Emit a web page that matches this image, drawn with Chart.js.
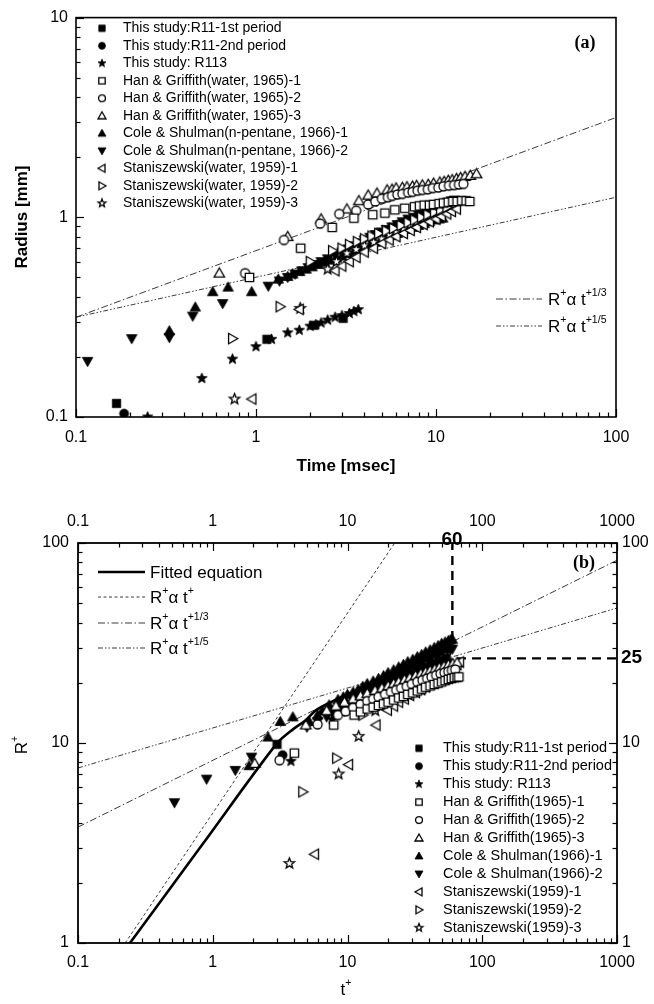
<!DOCTYPE html>
<html><head><meta charset="utf-8">
<script src="https://cdn.jsdelivr.net/npm/chart.js"></script>
<style>
html,body{margin:0;padding:0;background:#fff;}
#wrap{position:relative;width:654px;height:1004px;overflow:hidden;}
#ca{position:absolute;left:0;top:0;}
#cb{position:absolute;left:0;top:490px;}
</style></head><body>
<div id="wrap"><canvas id="ca" width="654" height="490"></canvas><canvas id="cb" width="654" height="514"></canvas></div>
<script>
// ---------- tick labels ----------
const aTimeTicks = [0.1, 1, 10, 100];
const aTimeLabels = ['0.1', '1', '10', '100'];
const aRadTicks = [0.1, 1, 10];
const aRadLabels = ['0.1', '1', '10'];
const bTTicks = [0.1, 1, 10, 100, 1000];
const bTLabels = ['0.1', '1', '10', '100', '1000'];
const bRTicks = [1, 10, 100];
const bRLabels = ['1', '10', '100'];

// ---------- series names ----------
const aNames = ['This study:R11-1st period','This study:R11-2nd period','This study: R113',
  'Han & Griffith(water, 1965)-1','Han & Griffith(water, 1965)-2','Han & Griffith(water, 1965)-3',
  'Cole & Shulman(n-pentane, 1966)-1','Cole & Shulman(n-pentane, 1966)-2',
  'Staniszewski(water, 1959)-1','Staniszewski(water, 1959)-2','Staniszewski(water, 1959)-3'];
const bNames = ['This study:R11-1st period','This study:R11-2nd period','This study: R113',
  'Han & Griffith(1965)-1','Han & Griffith(1965)-2','Han & Griffith(1965)-3',
  'Cole & Shulman(1966)-1','Cole & Shulman(1966)-2',
  'Staniszewski(1959)-1','Staniszewski(1959)-2','Staniszewski(1959)-3'];

// ---------- panel (a): time [msec], radius [mm] ----------
const aT_R11a = [0.168, 1.15, 2.1, 3.05];
const aR_R11a = [0.117, 0.245, 0.288, 0.312];
const aT_R11b = [0.185];
const aR_R11b = [0.104];
const aT_R113 = [0.25, 0.5, 0.74, 1.0, 1.22, 1.5, 1.74, 2.0, 2.15, 2.3, 2.5, 2.75, 3.0, 3.3, 3.5, 3.7];
const aR_R113 = [0.1, 0.156, 0.195, 0.225, 0.245, 0.264, 0.272, 0.285, 0.29, 0.296, 0.306, 0.316, 0.322, 0.33, 0.338, 0.345];
const aT_HG1 = [0.92, 1.77, 2.65, 3.5, 4.45, 5.2, 5.9, 6.7, 7.6, 8.1, 8.6, 9.2, 9.7, 10.4, 11.0, 11.7, 12.4, 13.1, 13.9, 14.7, 15.4];
const aR_HG1 = [0.50, 0.70, 0.89, 0.99, 1.03, 1.05, 1.09, 1.11, 1.13, 1.14, 1.15, 1.15, 1.16, 1.17, 1.18, 1.19, 1.2, 1.2, 1.21, 1.21, 1.2];
const aT_HG2 = [0.87, 1.43, 2.27, 2.9, 3.6, 4.2, 4.6, 5.0, 5.4, 5.7, 6.1, 6.5, 7.0, 7.4, 7.9, 8.4, 9.0, 9.6, 10.3, 11.0, 11.8, 12.6, 13.4, 14.2];
const aR_HG2 = [0.525, 0.77, 0.93, 1.04, 1.08, 1.16, 1.2, 1.24, 1.26, 1.28, 1.3, 1.31, 1.33, 1.34, 1.36, 1.37, 1.38, 1.4, 1.41, 1.43, 1.44, 1.45, 1.46, 1.47];
const aT_HG3 = [0.625, 1.5, 2.3, 3.2, 3.73, 4.2, 4.7, 5.35, 5.7, 6.0, 6.5, 6.9, 7.4, 7.8, 8.4, 9.05, 9.7, 10.5, 11.1, 11.7, 12.3, 13.0, 13.7, 14.5, 15.5, 16.8];
const aR_HG3 = [0.525, 0.80, 0.98, 1.1, 1.21, 1.29, 1.32, 1.37, 1.38, 1.40, 1.41, 1.42, 1.43, 1.44, 1.45, 1.46, 1.48, 1.5, 1.51, 1.53, 1.54, 1.56, 1.58, 1.6, 1.62, 1.65];
const aT_CS1 = [0.33, 0.46, 0.575, 0.70, 0.946, 1.33, 1.5, 1.6, 1.75, 1.9, 2.05, 2.2, 2.4, 2.6, 2.8, 3.0, 3.25, 3.5, 3.75, 4.0, 4.3, 4.6, 4.95, 5.3, 5.7, 6.1, 6.5, 7.0, 7.5, 8.0, 8.6, 9.2, 9.9, 10.4, 10.9];
const aR_CS1 = [0.27, 0.355, 0.424, 0.447, 0.424, 0.49, 0.505, 0.52, 0.535, 0.55, 0.565, 0.58, 0.595, 0.61, 0.625, 0.64, 0.66, 0.68, 0.695, 0.71, 0.73, 0.75, 0.77, 0.79, 0.81, 0.83, 0.85, 0.87, 0.89, 0.91, 0.93, 0.95, 0.97, 0.98, 0.99];
const aT_CS2 = [0.116, 0.204, 0.33, 0.445, 0.653, 1.17, 1.35, 1.5, 1.65, 1.8, 1.95, 2.1, 2.3, 2.5, 2.75, 3.0, 3.25, 3.5, 3.75, 4.0, 4.3, 4.6, 4.95, 5.3, 5.7, 6.1, 6.5, 7.0, 7.5, 8.0, 8.6, 9.2, 9.8, 10.5, 11.1, 11.6, 12.2, 12.7];
const aR_CS2 = [0.19, 0.247, 0.25, 0.32, 0.37, 0.452, 0.48, 0.5, 0.52, 0.54, 0.56, 0.58, 0.6, 0.62, 0.645, 0.67, 0.695, 0.72, 0.745, 0.77, 0.795, 0.82, 0.845, 0.87, 0.895, 0.92, 0.95, 0.98, 1.0, 1.03, 1.06, 1.09, 1.12, 1.15, 1.17, 1.19, 1.21, 1.22];
const aT_St1 = [0.95, 1.74, 2.75, 3.0, 3.3, 3.6, 4.0, 4.5, 5.0, 5.5, 6.0, 6.6, 7.2, 7.8, 8.5, 9.2, 10.0, 10.7, 11.5, 12.2, 13.0];
const aR_St1 = [0.123, 0.346, 0.54, 0.57, 0.6, 0.63, 0.67, 0.7, 0.74, 0.77, 0.8, 0.83, 0.86, 0.89, 0.92, 0.95, 0.98, 1.01, 1.04, 1.07, 1.1];
const aT_St2 = [0.74, 1.36, 2.0, 2.66, 3.0, 3.3, 3.65, 4.0, 4.4, 4.8, 5.3, 5.8, 6.4, 7.0, 7.6, 8.3, 9.0, 9.8, 10.6, 11.5];
const aR_St2 = [0.247, 0.357, 0.6, 0.68, 0.7, 0.73, 0.755, 0.78, 0.805, 0.83, 0.855, 0.88, 0.91, 0.94, 0.97, 1.0, 1.03, 1.06, 1.09, 1.12];
const aT_St3 = [0.76, 1.76, 2.5, 2.8, 3.2, 3.6, 4.0, 4.5, 5.0, 5.5, 6.0, 6.6, 7.2, 7.8, 8.5, 9.2, 10.0];
const aR_St3 = [0.123, 0.35, 0.55, 0.6, 0.66, 0.69, 0.72, 0.75, 0.78, 0.82, 0.85, 0.88, 0.92, 0.95, 0.99, 1.02, 1.06];
// reference lines (a)
const aLine13_t = [0.1, 100];
const aLine13_r = [0.316, 3.16];
const aLine15_t = [0.1, 100];
const aLine15_r = [0.316, 1.26];

// ---------- panel (b): t+, R+ ----------
const bT_R11a = [3.0, 16, 19, 21, 24, 28, 33, 37, 42, 48, 54];
const bR_R11a = [9.85, 18.5, 19.6, 20.5, 21.5, 22.5, 23.3, 24, 25, 25.8, 26.5];
const bT_R11b = [3.3];
const bR_R11b = [8.7];
const bT_R113 = [3.8, 7.7, 9, 10, 11, 12, 13, 14, 15, 16, 17, 18, 19, 20, 21.5, 23, 24.5, 26, 28, 30, 32, 34, 36, 38, 40, 42, 44, 46, 48, 50, 52.5, 55];
const bR_R113 = [8.1, 13.1, 14.3, 15.2, 15.8, 16.3, 16.8, 17.2, 17.6, 18, 18.4, 18.7, 19, 19.3, 19.7, 20.1, 20.5, 20.9, 21.4, 21.8, 22.2, 22.6, 23, 23.3, 23.7, 24, 24.3, 24.6, 24.9, 25.1, 25.5, 25.8];
const bT_HG1 = [4.03, 7.9, 11.2, 12.5, 14, 15.5, 17, 18.5, 20, 22, 24, 26, 28, 30.5, 33, 35.5, 38, 41, 44, 47, 50, 53, 56, 59, 62, 65, 67];
const bR_HG1 = [8.9, 12.3, 13.8, 14.3, 14.8, 15.1, 15.4, 15.7, 16, 16.4, 16.8, 17.1, 17.5, 17.8, 18.2, 18.6, 19, 19.3, 19.6, 19.9, 20.2, 20.5, 20.8, 21, 21.2, 21.3, 21.4];
const bT_HG2 = [3.13, 6.0, 8.5, 9.7, 11, 12.5, 14, 15.5, 17, 19, 21, 23, 25, 27.5, 30, 33, 36, 39, 42, 45.5, 49, 52.5, 56, 59.5, 63];
const bR_HG2 = [8.2, 12.4, 13.8, 14.4, 15, 15.6, 16.2, 16.6, 17, 17.5, 18, 18.4, 18.8, 19.2, 19.7, 20.2, 20.6, 21, 21.4, 21.8, 22.2, 22.5, 22.8, 23.1, 23.3];
const bT_HG3 = [2.05, 4.9, 7, 8.2, 9.5, 11, 12.5, 14, 16, 18, 20, 22, 24, 26.5, 29, 32, 35, 38, 41, 44.5, 48, 52, 56, 60.5, 65];
const bR_HG3 = [7.9, 12.3, 14.5, 15.3, 16, 16.6, 17.2, 17.7, 18.3, 18.8, 19.3, 19.8, 20.2, 20.7, 21.2, 21.7, 22.2, 22.6, 23, 23.4, 23.8, 24.2, 24.6, 24.9, 25.2];
const bT_CS1 = [1.86, 2.57, 3.17, 3.93, 5.2, 6.0, 6.5, 7.3, 8.5, 9.3, 10, 11, 12, 13, 14, 15.5, 17, 18.5, 20, 22, 24, 26, 28, 30.5, 33, 35.5, 38, 41, 44, 47, 50, 53, 56, 58, 60];
const bR_CS1 = [7.7, 10.7, 12.8, 13.5, 12.8, 13.8, 14.5, 15.5, 16.5, 17, 17.5, 18, 18.5, 19.2, 19.8, 20.4, 21, 21.7, 22.5, 23.2, 24, 24.7, 25.5, 26.2, 27, 27.7, 28.5, 29.2, 30, 30.7, 31.5, 32, 32.5, 32.8, 33];
const bT_CS2 = [0.52, 0.9, 1.47, 1.94, 5.0, 6.0, 7, 7.8, 8.5, 9.2, 10, 11, 12, 13.5, 15, 16.5, 18, 20, 22, 24, 26, 28, 30, 33, 36, 39, 42, 45, 48, 51, 55, 58, 60];
const bR_CS2 = [5.03, 6.6, 7.3, 8.5, 12, 12.8, 13.5, 14, 14.5, 15, 15.5, 16.2, 17, 17.7, 18.5, 19.2, 20, 20.7, 21.5, 22.3, 23, 23.5, 24, 24.7, 25.5, 26.2, 27, 27.5, 28, 28.5, 29, 29.3, 29.5];
const bT_St1 = [5.7, 10.2, 16.3, 19.8, 22, 24, 26.5, 29, 32, 35, 38, 41, 44.5, 48, 51.5, 55, 58.5, 62, 65, 68];
const bR_St1 = [2.78, 7.8, 12.3, 14.6, 15.3, 16, 16.6, 17.3, 17.9, 18.5, 19.1, 19.8, 20.5, 21.2, 21.9, 22.6, 23.3, 24, 24.7, 25.4];
const bT_St2 = [4.65, 8.3, 13, 16.8, 19, 21, 23.5, 26, 29, 32, 35.5, 39, 42.5, 46, 50, 54, 58, 62];
const bR_St2 = [5.7, 8.4, 13.8, 16, 16.7, 17.4, 18, 18.5, 19, 19.6, 20.2, 20.8, 21.4, 22, 22.6, 23.2, 23.8, 24.3];
const bT_St3 = [3.7, 8.6, 12.1, 16.1, 18, 20, 22.5, 25, 27.5, 30, 33.5, 37, 41, 45, 49.5, 54];
const bR_St3 = [2.5, 7.0, 10.8, 14.5, 15.4, 16.3, 17.1, 17.8, 18.4, 19, 19.7, 20.4, 21.1, 21.8, 22.4, 23];
// fitted equation & reference lines (b)
const bFit_t = [0.243, 0.85, 2.97, 4.0, 4.9, 5.85, 7.8, 10.3, 14, 20, 30, 45, 60];
const bFit_r = [1.0, 3.15, 9.9, 11.8, 13.0, 14.6, 16.2, 17.6, 19.3, 21.5, 24.3, 27.5, 30];
const bLine1_t = [0.224, 22.4];
const bLine1_r = [1, 100];
const bLine13_t = [0.1, 1000];
const bLine13_r = [3.8, 82];
const bLine15_t = [0.1, 1000];
const bLine15_r = [7.5, 47.3];
const bV60_t = [60, 60];
const bV60_r = [32.7, 100];
const bH25_t = [65, 1000];
const bH25_r = [26.5, 26.5];

// ---------- styling ----------
const FONT = '"Liberation Sans", Arial, Helvetica, sans-serif';
const SERIF = '"Liberation Serif", "Times New Roman", serif';
const kinds = ['sqF','ciF','stF','sqO','ciO','tuO','tuF','tdF','tlO','trO','stO'];

function mk(kind, s) {
  const W = Math.ceil(s + 4);
  const c = document.createElement('canvas'); c.width = W; c.height = W;
  const g = c.getContext('2d');
  const cx = W / 2, cy = W / 2, r = s / 2;
  const filled = kind.endsWith('F');
  const shape = kind.slice(0, 2);
  g.beginPath();
  if (shape === 'sq') { const h = r * 0.8; g.rect(cx - h, cy - h, 2 * h, 2 * h); }
  else if (shape === 'ci') { g.arc(cx, cy, r * 0.86, 0, Math.PI * 2); }
  else if (shape === 'tu') { g.moveTo(cx, cy - r); g.lineTo(cx + r, cy + r * 0.75); g.lineTo(cx - r, cy + r * 0.75); g.closePath(); }
  else if (shape === 'td') { g.moveTo(cx, cy + r); g.lineTo(cx + r, cy - r * 0.75); g.lineTo(cx - r, cy - r * 0.75); g.closePath(); }
  else if (shape === 'tl') { g.moveTo(cx - r, cy); g.lineTo(cx + r * 0.75, cy - r); g.lineTo(cx + r * 0.75, cy + r); g.closePath(); }
  else if (shape === 'tr') { g.moveTo(cx + r, cy); g.lineTo(cx - r * 0.75, cy - r); g.lineTo(cx - r * 0.75, cy + r); g.closePath(); }
  else if (shape === 'st') {
    for (let k = 0; k < 10; k++) {
      const a = -Math.PI / 2 + k * Math.PI / 5; const rr = k % 2 ? r * 0.45 : r * 1.05;
      const px = cx + rr * Math.cos(a), py = cy + rr * Math.sin(a);
      if (k) g.lineTo(px, py); else g.moveTo(px, py);
    }
    g.closePath();
  }
  g.fillStyle = filled ? '#000' : '#fff'; g.fill();
  g.lineWidth = filled ? 0.8 : 1.3; g.strokeStyle = '#000'; g.stroke();
  return c;
}
const dataMk = kinds.map(k => mk(k, 10.5));
const legMk = kinds.map(k => mk(k, 8));

const pts = (t, r) => t.map((x, i) => ({x: x, y: r[i]}));
function scatterDs(label, t, r, i) {
  return {label, data: pts(t, r), pointStyle: dataMk[i], pointRadius: 5, showLine: false,
    order: kinds[i].endsWith('O') ? 1 : 2};
}
function lineDs(t, r, width, dash, color) {
  return {data: pts(t, r), showLine: true, pointRadius: 0, borderColor: color, borderWidth: width,
    borderDash: dash, fill: false, order: 3};
}
const DASH1 = [3, 2.5], DASH13 = [7, 2.5, 1.5, 2.5], DASH15 = [5, 2, 1.5, 2, 1.5, 2];
const LC = '#3a3a3a';

function drawLogTicks(ctx, scale, side, ca) {
  const lo = Math.floor(Math.log10(scale.min) - 1e-9), hi = Math.ceil(Math.log10(scale.max) + 1e-9);
  ctx.strokeStyle = '#000'; ctx.lineWidth = 1.2;
  for (let e = lo; e <= hi; e++) for (let m = 1; m <= 9; m++) {
    const v = m * Math.pow(10, e);
    if (v < scale.min * 0.9999 || v > scale.max * 1.0001) continue;
    const p = Math.round(scale.getPixelForValue(v)) + 0.5;
    const L = m === 1 ? 8 : 4.5;
    ctx.beginPath();
    if (side === 'bottom') { ctx.moveTo(p, ca.bottom); ctx.lineTo(p, ca.bottom - L); }
    if (side === 'top') { ctx.moveTo(p, ca.top); ctx.lineTo(p, ca.top + L); }
    if (side === 'left') { ctx.moveTo(ca.left, p); ctx.lineTo(ca.left + L, p); }
    if (side === 'right') { ctx.moveTo(ca.right, p); ctx.lineTo(ca.right - L, p); }
    ctx.stroke();
  }
}
function rich(ctx, x, y, parts, size, align, bold) {
  const w8 = bold ? 'bold ' : '';
  let w = 0;
  parts.forEach(p => { ctx.font = w8 + (p[1] ? size * 0.62 : size) + 'px ' + FONT; w += ctx.measureText(p[0]).width; });
  let cx = align === 'center' ? x - w / 2 : x;
  ctx.textAlign = 'left'; ctx.textBaseline = 'middle'; ctx.fillStyle = '#000';
  parts.forEach(p => {
    ctx.font = w8 + (p[1] ? size * 0.62 : size) + 'px ' + FONT;
    ctx.fillText(p[0], cx, p[1] ? y - size * 0.4 : y);
    cx += ctx.measureText(p[0]).width;
  });
}
function legLine(ctx, x1, x2, y, width, dash) {
  ctx.save(); ctx.strokeStyle = width > 1.5 ? '#000' : LC; ctx.lineWidth = width; ctx.setLineDash(dash);
  ctx.beginPath(); ctx.moveTo(x1, y); ctx.lineTo(x2, y); ctx.stroke(); ctx.restore();
}
function text(ctx, s, x, y, font, align) {
  ctx.font = font; ctx.textAlign = align || 'left'; ctx.textBaseline = 'middle'; ctx.fillStyle = '#000';
  ctx.fillText(s, x, y);
}
function logAxis(pos, min, max, ticks, labels, pad, size) {
  return {
    type: 'logarithmic', position: pos, min, max,
    grid: {display: false, drawTicks: false}, border: {display: false},
    ticks: {color: '#000', font: {family: FONT, size: 16}, padding: pad, autoSkip: false, maxRotation: 0,
      callback: (v, i) => labels[i]},
    afterBuildTicks: ax => { ax.ticks = ticks.map(v => ({value: v})); },
    afterFit: ax => { if (pos === 'left' || pos === 'right') ax.width = size; else ax.height = size; }
  };
}

// ---------- panel (a) ----------
const decoA = {
  id: 'decoA',
  afterDraw(chart) {
    const ctx = chart.ctx, ca = chart.chartArea;
    ctx.save();
    drawLogTicks(ctx, chart.scales.x, 'bottom', ca);
    drawLogTicks(ctx, chart.scales.y, 'left', ca);
    ctx.strokeStyle = '#000'; ctx.lineWidth = 1.6;
    ctx.strokeRect(ca.left, ca.top, ca.right - ca.left, ca.bottom - ca.top);
    aNames.forEach((n, i) => {
      const y = 28.3 + i * 17.5;
      ctx.drawImage(legMk[i], 102 - legMk[i].width / 2, y - legMk[i].height / 2);
      text(ctx, n, 123, y, '14px ' + FONT);
    });
    legLine(ctx, 496, 542, 299, 1, DASH13);
    legLine(ctx, 496, 542, 326, 1, DASH15);
    rich(ctx, 548, 300, [['R', 0], ['+', 1], ['\u03b1 t', 0], ['+1/3', 1]], 17, 'left');
    rich(ctx, 548, 327, [['R', 0], ['+', 1], ['\u03b1 t', 0], ['+1/5', 1]], 17, 'left');
    text(ctx, '(a)', 585, 43, 'bold 18px ' + SERIF, 'center');
    text(ctx, 'Time [msec]', 346, 466, 'bold 17px ' + FONT, 'center');
    ctx.translate(22, 217); ctx.rotate(-Math.PI / 2);
    text(ctx, 'Radius [mm]', 0, 0, 'bold 17px ' + FONT, 'center');
    ctx.restore();
  }
};
const aSets = [
  scatterDs(aNames[0], aT_R11a, aR_R11a, 0), scatterDs(aNames[1], aT_R11b, aR_R11b, 1),
  scatterDs(aNames[2], aT_R113, aR_R113, 2), scatterDs(aNames[3], aT_HG1, aR_HG1, 3),
  scatterDs(aNames[4], aT_HG2, aR_HG2, 4), scatterDs(aNames[5], aT_HG3, aR_HG3, 5),
  scatterDs(aNames[6], aT_CS1, aR_CS1, 6), scatterDs(aNames[7], aT_CS2, aR_CS2, 7),
  scatterDs(aNames[8], aT_St1, aR_St1, 8), scatterDs(aNames[9], aT_St2, aR_St2, 9),
  scatterDs(aNames[10], aT_St3, aR_St3, 10),
  lineDs(aLine13_t, aLine13_r, 1, DASH13, LC), lineDs(aLine15_t, aLine15_r, 1, DASH15, LC)
];
new Chart(document.getElementById('ca'), {
  type: 'scatter',
  data: {datasets: aSets},
  options: {
    responsive: false, animation: false, events: [],
    layout: {padding: {top: 17, right: 38, left: 0, bottom: 0}},
    plugins: {legend: {display: false}, tooltip: {enabled: false}},
    scales: {
      x: logAxis('bottom', 0.1, 100, aTimeTicks, aTimeLabels, 11, 73),
      y: logAxis('left', 0.1, 10, aRadTicks, aRadLabels, 8, 76)
    }
  },
  plugins: [decoA]
});

// ---------- panel (b) ----------
const decoB = {
  id: 'decoB',
  afterDraw(chart) {
    const ctx = chart.ctx, ca = chart.chartArea;
    ctx.save();
    drawLogTicks(ctx, chart.scales.x, 'bottom', ca);
    drawLogTicks(ctx, chart.scales.x2, 'top', ca);
    drawLogTicks(ctx, chart.scales.y, 'left', ca);
    drawLogTicks(ctx, chart.scales.y2, 'right', ca);
    ctx.strokeStyle = '#000'; ctx.lineWidth = 1.8;
    ctx.strokeRect(ca.left, ca.top, ca.right - ca.left, ca.bottom - ca.top);
    legLine(ctx, 98, 145, 82, 2.6, []);
    legLine(ctx, 98, 145, 107, 1, DASH1);
    legLine(ctx, 98, 145, 133, 1, DASH13);
    legLine(ctx, 98, 145, 158, 1, DASH15);
    text(ctx, 'Fitted equation', 150, 83, '17px ' + FONT);
    rich(ctx, 150, 108, [['R', 0], ['+', 1], ['\u03b1 t', 0], ['+', 1]], 17, 'left');
    rich(ctx, 150, 134, [['R', 0], ['+', 1], ['\u03b1 t', 0], ['+1/3', 1]], 17, 'left');
    rich(ctx, 150, 159, [['R', 0], ['+', 1], ['\u03b1 t', 0], ['+1/5', 1]], 17, 'left');
    bNames.forEach((n, i) => {
      const y = 258.3 + i * 17.94;
      ctx.drawImage(legMk[i], 419 - legMk[i].width / 2, y - legMk[i].height / 2);
      text(ctx, n, 443, y, '14.5px ' + FONT);
    });
    text(ctx, '(b)', 584, 73, 'bold 18px ' + SERIF, 'center');
    text(ctx, '60', 452, 50, 'bold 19px ' + FONT, 'center');
    text(ctx, '25', 621, 168, 'bold 19px ' + FONT, 'left');
    rich(ctx, 346, 500, [['t', 0], ['+', 1]], 17, 'center');
    ctx.translate(22, 255); ctx.rotate(-Math.PI / 2);
    rich(ctx, 0, 0, [['R', 0], ['+', 1]], 17, 'center');
    ctx.restore();
  }
};
const bSets = [
  scatterDs(bNames[0], bT_R11a, bR_R11a, 0), scatterDs(bNames[1], bT_R11b, bR_R11b, 1),
  scatterDs(bNames[2], bT_R113, bR_R113, 2), scatterDs(bNames[3], bT_HG1, bR_HG1, 3),
  scatterDs(bNames[4], bT_HG2, bR_HG2, 4), scatterDs(bNames[5], bT_HG3, bR_HG3, 5),
  scatterDs(bNames[6], bT_CS1, bR_CS1, 6), scatterDs(bNames[7], bT_CS2, bR_CS2, 7),
  scatterDs(bNames[8], bT_St1, bR_St1, 8), scatterDs(bNames[9], bT_St2, bR_St2, 9),
  scatterDs(bNames[10], bT_St3, bR_St3, 10),
  Object.assign(lineDs(bFit_t, bFit_r, 2.6, [], '#000'), {order: 0, tension: 0.3}),
  lineDs(bLine1_t, bLine1_r, 1, DASH1, LC),
  lineDs(bLine13_t, bLine13_r, 1, DASH13, LC),
  lineDs(bLine15_t, bLine15_r, 1, DASH15, LC),
  lineDs(bV60_t, bV60_r, 2.4, [9, 6], '#000'),
  lineDs(bH25_t, bH25_r, 2.4, [9, 6], '#000')
];
new Chart(document.getElementById('cb'), {
  type: 'scatter',
  data: {datasets: bSets},
  options: {
    responsive: false, animation: false, events: [],
    layout: {padding: 0},
    plugins: {legend: {display: false}, tooltip: {enabled: false}},
    scales: {
      x: logAxis('bottom', 0.1, 1000, bTTicks, bTLabels, 10, 61),
      x2: logAxis('top', 0.1, 1000, bTTicks, bTLabels, 12, 53),
      y: logAxis('left', 1, 100, bRTicks, bRLabels, 9, 78),
      y2: logAxis('right', 1, 100, bRTicks, bRLabels, 5, 37)
    }
  },
  plugins: [decoB]
});
</script>
</body></html>
